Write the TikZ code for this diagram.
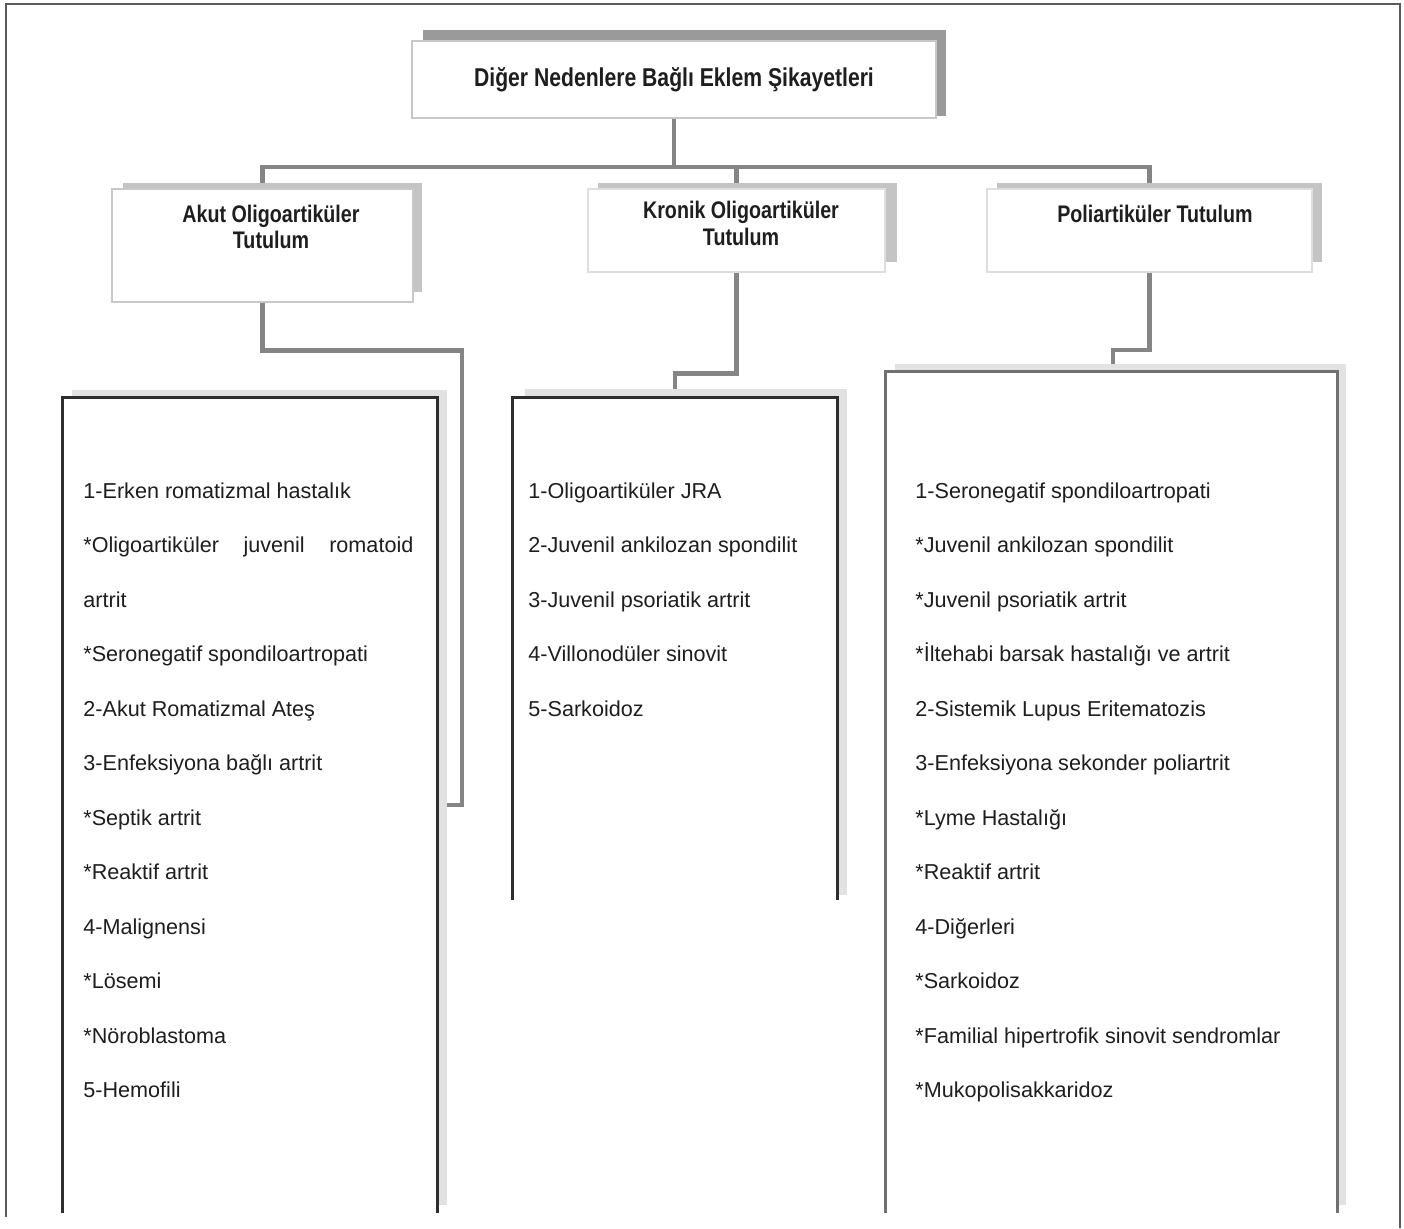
\documentclass[tikz,border=0pt]{standalone}
\usepackage{fontspec}
\setmainfont{Liberation Sans}
\newfontfamily\hdfont[FakeStretch=0.82]{Liberation Sans}
\usetikzlibrary{fit,backgrounds}
\definecolor{txt}{HTML}{1E1E1E}
\definecolor{conn}{HTML}{858585}
\definecolor{shadowdark}{HTML}{9A9A9A}
\definecolor{shadowlight}{HTML}{C4C4C4}
\definecolor{shadowpale}{HTML}{E2E2E2}
\definecolor{frontedge}{HTML}{C8C8C8}
\definecolor{listedge}{HTML}{2E2E2E}
\definecolor{listedgeg}{HTML}{707070}
\definecolor{framec}{HTML}{5A5A5A}
\begin{document}
\begin{tikzpicture}[x=0.5pt,y=-0.5pt,
  frontbox/.style={fill=white, draw=frontedge, line width=0.6pt, inner sep=0pt},
  listfront/.style={fill=white, draw=none, inner sep=0pt},
  listline/.style={draw=listedge, line width=1.25pt, line join=miter},
  listlineg/.style={draw=listedgeg, line width=1.25pt, line join=miter},
  connector/.style={draw=conn, line width=2.2pt, line join=miter, line cap=rect},
  hdtitle/.style={anchor=base, inner sep=0pt, text=txt, font=\hdfont\bfseries\fontsize{12.9}{15}\selectfont},
  hdsub/.style={anchor=base, inner sep=0pt, text=txt, font=\hdfont\bfseries\fontsize{12}{14}\selectfont},
  item/.style={anchor=base west, inner sep=0pt, text=txt, font=\fontsize{10.8}{13}\selectfont}
]
\useasboundingbox (0,0) rectangle (1404,1228);

% outer frame
\draw[framec, line width=0.75pt] (6,1217) -- (6,4) -- (1400,4) -- (1400,1228);

% top box
\fill[shadowdark] (423,30) rectangle (946,116);
\node[frontbox, fit={(412,41) (936,118)}] (top) {};
\node[hdtitle] (topT) at (674,86) {Diğer Nedenlere Bağlı Eklem Şikayetleri};

% second level boxes
\fill[shadowlight] (123,183) rectangle (422,292);
\node[frontbox, fit={(112,189) (413,302)}] (akut) {};
\node[hdsub] (akutA) at (271,222) {Akut Oligoartiküler};
\node[hdsub] (akutB) at (271,248) {Tutulum};

\fill[shadowlight] (598,183) rectangle (897,262);
\node[frontbox, draw=frontedge!60, fit={(588,189) (885,272)}] (kronik) {};
\node[hdsub] (kronikA) at (741,218) {Kronik Oligoartiküler};
\node[hdsub] (kronikB) at (741,245) {Tutulum};

\fill[shadowlight] (997,183) rectangle (1322,262);
\node[frontbox, draw=frontedge!60, fit={(987,189) (1312,272)}] (poli) {};
\node[hdsub] (poliA) at (1155,222) {Poliartiküler Tutulum};

% list boxes
\fill[shadowpale] (72,390) rectangle (447,1205);
\node[listfront, fit={(63,398) (437,1213)}] (leftL) {};
\draw[listline] (leftL.south west) -- (leftL.north west) -- (leftL.north east) -- (leftL.south east);

\fill[shadowpale] (525,389) rectangle (847,895);
\node[listfront, fit={(513,398) (837,900)}] (midL) {};
\draw[listline] (midL.south west) -- (midL.north west) -- (midL.north east) -- (midL.south east);

\fill[shadowpale] (895,364) rectangle (1346,1205);
\node[listfront, fit={(886,372) (1337,1213)}] (rightL) {};
\draw[listlineg] (rightL.south west) -- (rightL.north west) -- (rightL.north east) -- (rightL.south east);

% connectors
\coordinate (bus) at (674,167);
\coordinate (akutJoin) at (462,805);
\coordinate (poliJoin) at (1113,350);
\begin{scope}[on background layer]
  \draw[connector] (top.south) -- (bus);
  \draw[connector] (akut.north) |- (bus);
  \draw[connector] (poli.north) |- (bus);
  \draw[connector] (kronik.north) -- (kronik.north |- bus);
  \draw[connector] (akut.south) -- ++(0,48) -| (akutJoin) -- (akutJoin -| leftL.east);
  \draw[connector] (kronik.south) -- ++(0,101) -| (midL.north);
  \draw[connector] (poli.south) |- (poliJoin) -- (poliJoin |- rightL.north);
\end{scope}

% list texts
\foreach \t [count=\i from 0] in {1-Erken romatizmal hastalık,
  {\makebox[165pt][s]{*Oligoartiküler juvenil romatoid}},
  artrit, *Seronegatif spondiloartropati, 2-Akut Romatizmal Ateş,
  3-Enfeksiyona bağlı artrit, *Septik artrit, *Reaktif artrit,
  4-Malignensi, *Lösemi, *Nöroblastoma, 5-Hemofili}
  \node[item] (L\i) at (83,498+54.5*\i) {\t};

\foreach \t [count=\i from 0] in {1-Oligoartiküler JRA,
  2-Juvenil ankilozan spondilit, 3-Juvenil psoriatik artrit,
  4-Villonodüler sinovit, 5-Sarkoidoz}
  \node[item] (M\i) at (528,498+54.5*\i) {\t};

\foreach \t [count=\i from 0] in {1-Seronegatif spondiloartropati,
  *Juvenil ankilozan spondilit, *Juvenil psoriatik artrit,
  *İltehabi barsak hastalığı ve artrit, 2-Sistemik Lupus Eritematozis,
  3-Enfeksiyona sekonder poliartrit, *Lyme Hastalığı, *Reaktif artrit,
  4-Diğerleri, *Sarkoidoz, *Familial hipertrofik sinovit sendromlar,
  *Mukopolisakkaridoz}
  \node[item] (R\i) at (915,498+54.5*\i) {\t};
\end{tikzpicture}
\end{document}
